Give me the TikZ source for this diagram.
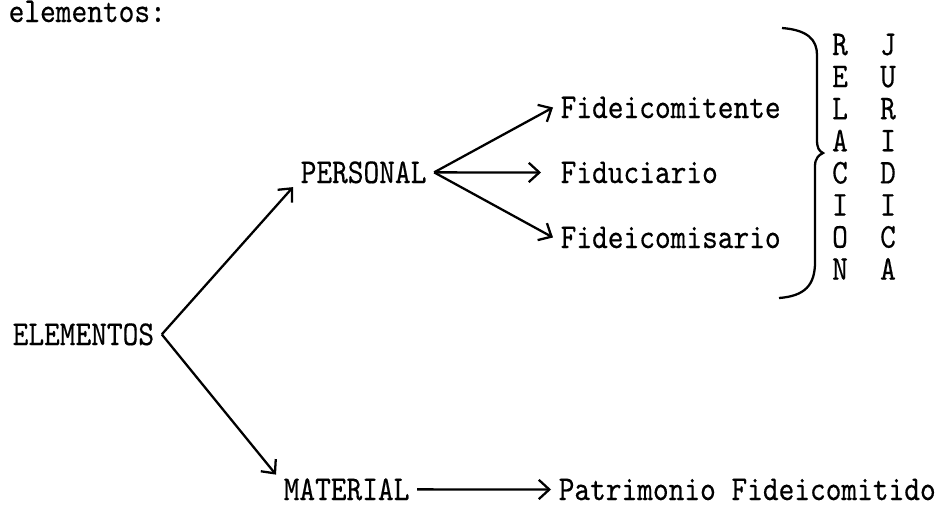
\documentclass[tikz,border=0pt]{standalone}
\usepackage{fontspec}
\setmainfont{lmmono10-regular}[Extension=.otf, FakeStretch=0.86, FakeBold=0.4]
\usetikzlibrary{arrows.meta}
\tikzset{
    texto/.style={anchor=base west, inner xsep=0.07cm, inner ysep=0.03cm,
        font=\fontsize{9.9}{11}\selectfont},
    letra/.style={anchor=base, inner sep=0pt, font=\fontsize{9.9}{11}\selectfont},
    flecha/.style={-{Straight Barb[length=3pt, width=5.5pt]}, line width=0.65pt},
}

\begin{document}
\begin{tikzpicture}
        \useasboundingbox (0, 0) rectangle (9.48, -5.10);
        % textos
        \node[texto] (tit) at (0.01, -0.22) {elementos:};
        \node[texto] (elem) at (0.05, -3.45) {ELEMENTOS};
        \node[texto] (pers) at (2.93, -1.83) {PERSONAL};
        \node[texto] (fte) at (5.53, -1.18) {Fideicomitente};
        \node[texto] (fdo) at (5.53, -1.83) {Fiduciario};
        \node[texto] (fsio) at (5.53, -2.48) {Fideicomisario};
        \node[texto] (mat) at (2.76, -5.00) {MATERIAL};
        \node[texto] (pat) at (5.51, -5.00) {Patrimonio Fideicomitido};
        \foreach \l [count=\i from 0] in {R,E,L,A,C,I,O,N}
            \node[letra] (rel\i) at (8.40, {-0.55-0.321*\i}) {\l};
        \foreach \l [count=\i from 0] in {J,U,R,I,D,I,C,A}
            \node[letra] (jur\i) at (8.88, {-0.55-0.321*\i}) {\l};
        % flechas
        \draw[flecha] (elem.east) -- (pers.south west);
        \draw[flecha] (elem.east) -- (mat.north west);
        \draw[flecha] (pers.east) -- (fte.west);
        \draw[flecha, shorten >=0.12cm] (pers.east) -- (fdo.west);
        \draw[flecha] (pers.east) -- (fsio.west);
        \draw[flecha] (mat.east) -- (pat.west);
        % llave
        \draw[line width=0.65pt]
            (7.82, -0.28) .. controls (8.08, -0.30) and (8.17, -0.40) .. (8.17, -0.55)
            -- (8.17, -1.40) .. controls (8.17, -1.48) and (8.19, -1.51) .. (8.23, -1.53)
            .. controls (8.19, -1.55) and (8.15, -1.58) .. (8.15, -1.66)
            -- (8.15, -2.62) .. controls (8.15, -2.85) and (8.05, -2.96) .. (7.79, -2.98);
\end{tikzpicture}
\end{document}
